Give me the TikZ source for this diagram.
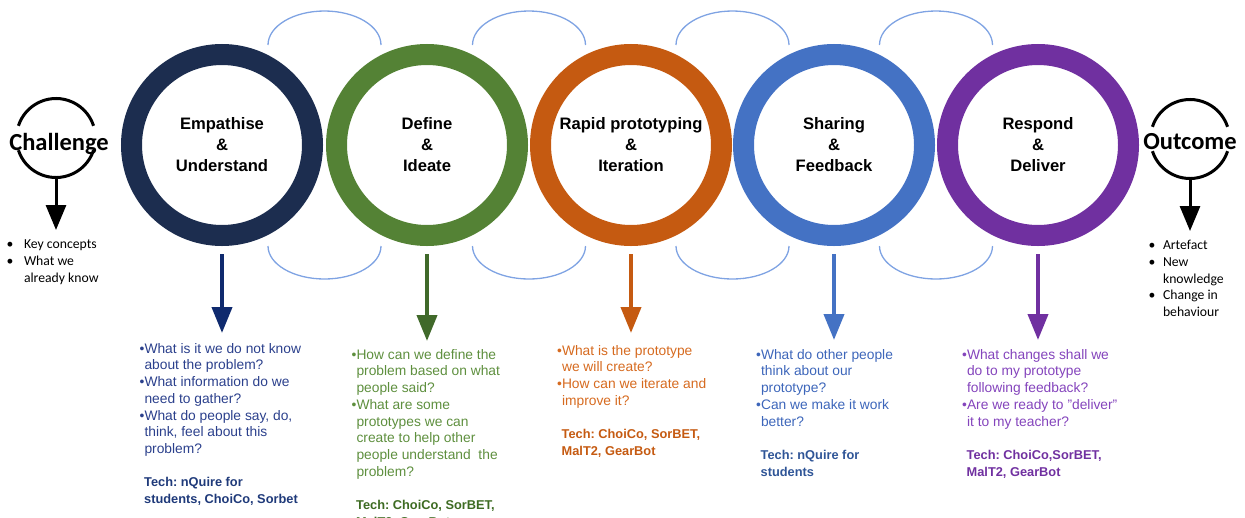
\documentclass[tikz,border=0pt]{standalone}
\usepackage{fontspec}
\setmainfont{Liberation Sans}
\newfontfamily\calib{Carlito}
\frenchspacing
\usetikzlibrary{arrows.meta}
\pgfdeclarelayer{background}
\pgfsetlayers{background,main}
\definecolor{navyring}{HTML}{1C2D4F}
\definecolor{navyarrow}{HTML}{0F2A6E}
\definecolor{navytext}{HTML}{2B408C}
\definecolor{navytech}{HTML}{1F3A7A}
\definecolor{greenring}{HTML}{548235}
\definecolor{greenarrow}{HTML}{40692A}
\definecolor{greentext}{HTML}{5E8F3E}
\definecolor{greentech}{HTML}{3D6B22}
\definecolor{orangering}{HTML}{C55A11}
\definecolor{orangetext}{HTML}{D66A1F}
\definecolor{bluering}{HTML}{4472C4}
\definecolor{bluetext}{HTML}{3D66BA}
\definecolor{bluetech}{HTML}{2F5597}
\definecolor{purplering}{HTML}{7030A0}
\definecolor{purpletext}{HTML}{8444BC}
\definecolor{linkblue}{HTML}{7FA3E3}
\tikzstyle{phase}=[circle,draw,line width=21pt,minimum size=181pt,inner sep=0pt,align=center,font=\fontsize{16.6}{21}\selectfont\bfseries]
\tikzstyle{link}=[draw=linkblue,line width=1.3pt]
\tikzstyle{drop}=[draw,line width=4pt,shorten <=8pt,-{Triangle[length=26pt,width=20pt]}]
\tikzstyle{ask}=[anchor=north west,inner sep=0pt,align=left,font=\fontsize{13.8}{16.7}\selectfont]
\tikzstyle{endring}=[draw=black,line width=3pt]
\tikzstyle{endarrow}=[draw=black,line width=3pt,-{Triangle[length=25pt,width=20pt]}]
\tikzstyle{endword}=[anchor=base,inner sep=0pt,font=\calib\fontsize{24.5}{25}\selectfont\bfseries]
\tikzstyle{endlist}=[anchor=north west,inner sep=0pt,font=\calib\fontsize{13.7}{16.7}\selectfont]
\newcommand{\techline}[2]{{\color{#1}\fontsize{12.8}{16.7}\selectfont\bfseries\phantom{•}#2}}
\newcommand{\more}{\phantom{•}}

\begin{document}
\begin{tikzpicture}[x=1pt,y=-1pt]
    \useasboundingbox (0,0) rectangle (1245,517);
    % First we draw the five rings
    \foreach \pos/\name/\col/\txt in {{(222,145)/emp/navyring/{Empathise\\\&\\Understand}},
        {(427,145)/def/greenring/{Define\\\&\\Ideate}},
        {(631,145)/rap/orangering/{Rapid prototyping\\\&\\Iteration}},
        {(834,145)/sha/bluering/{Sharing\\\&\\Feedback}},
        {(1038,145)/res/purplering/{Respond\\\&\\Deliver}}}
        \node[phase,draw=\col] (\name) at \pos {\txt};

    % Thin links above and below, behind the rings
    \begin{pgfonlayer}{background}
    \foreach \a/\b in {emp/def, def/rap, rap/sha, sha/res} {
        \path (\a) -- (\b) coordinate[midway] (\a m);
        \draw[link] ([xshift=-56.5pt,yshift=100pt]\a m) arc[start angle=180,end angle=0,x radius=56.5pt,y radius=34pt];
        \draw[link] ([xshift=-56.5pt,yshift=-101pt]\a m) arc[start angle=180,end angle=360,x radius=56.5pt,y radius=33pt];
    }
    \end{pgfonlayer}

    % Arrows down from each ring
    \foreach \name/\col/\tip in {emp/navyarrow/333, def/greenarrow/341, rap/orangering/333, sha/bluering/340, res/purplering/340} {
        \coordinate (\name tip) at (\name |- 0,\tip);
        \draw[drop,draw=\col] (\name.south) -- (\name tip);
    }

    % Questions under each ring
    \node[ask,text=navytext] (empq) at (139.5,343) {•What is it we do not know\\\more about the problem?\\•What information do we\\\more need to gather?\\•What do people say, do,\\\more think, feel about this\\\more problem?\\[16.7pt]\techline{navytech}{Tech: nQuire for}\\\techline{navytech}{students, ChoiCo, Sorbet}};
    \node[ask,text=greentext] (defq) at (351.5,349) {•How can we define the\\\more problem based on what\\\more people said?\\•What are some\\\more prototypes we can\\\more create to help other\\\more people understand\ \ the\\\more problem?\\[16.7pt]\techline{greentech}{Tech: ChoiCo, SorBET,}\\\techline{greentech}{MalT2, GearBot}};
    \node[ask,text=orangetext] (rapq) at (557,345) {•What is the prototype\\\more we will create?\\•How can we iterate and\\\more improve it?\\[16.7pt]\techline{orangering}{Tech: ChoiCo, SorBET,}\\\techline{orangering}{MalT2, GearBot}};
    \node[ask,text=bluetext] (shaq) at (756,349) {•What do other people\\\more think about our\\\more prototype?\\•Can we make it work\\\more better?\\[16.7pt]\techline{bluetech}{Tech: nQuire for}\\\techline{bluetech}{students}};
    \node[ask,text=purpletext] (resq) at (962,349) {•What changes shall we\\\more do to my prototype\\\more following feedback?\\•Are we ready to "deliver"\\\more it to my teacher?\\[16.7pt]\techline{purplering}{Tech: ChoiCo,SorBET,}\\\techline{purplering}{MalT2, GearBot}};

    % Challenge and Outcome at both ends
    \foreach \rx/\ry/\tx/\ty/\name/\word in {56/138/59/150/chal/Challenge, 1190/139/1190/149/outc/Outcome} {
        \node[endword] (\name) at (\tx,\ty) {\word};
        \coordinate (\name ring) at (\rx,\ry);
        \draw[endring] ([shift={(162:39.5pt)}]\name ring) arc[start angle=162,end angle=18,radius=39.5pt];
        \draw[endring] ([shift={(198:39.5pt)}]\name ring) arc[start angle=198,end angle=342,radius=39.5pt];
        \coordinate (\name top) at (\rx,\ry+39.5);
        \coordinate (\name tip) at (\rx,\ry+92);
        \draw[endarrow] (\name top) -- (\name tip);
    }
    \node[endlist] (chall) at (6.5,237) {\begin{tabular}{@{}l@{\hspace{10.5pt}}l@{}}•&Key concepts\\•&What we\\&already know\end{tabular}};
    \node[endlist] (outcl) at (1148.5,238) {\begin{tabular}{@{}l@{\hspace{7.5pt}}l@{}}•&Artefact\\•&New\\&knowledge\\•&Change in\\&behaviour\end{tabular}};
\end{tikzpicture}
\end{document}
